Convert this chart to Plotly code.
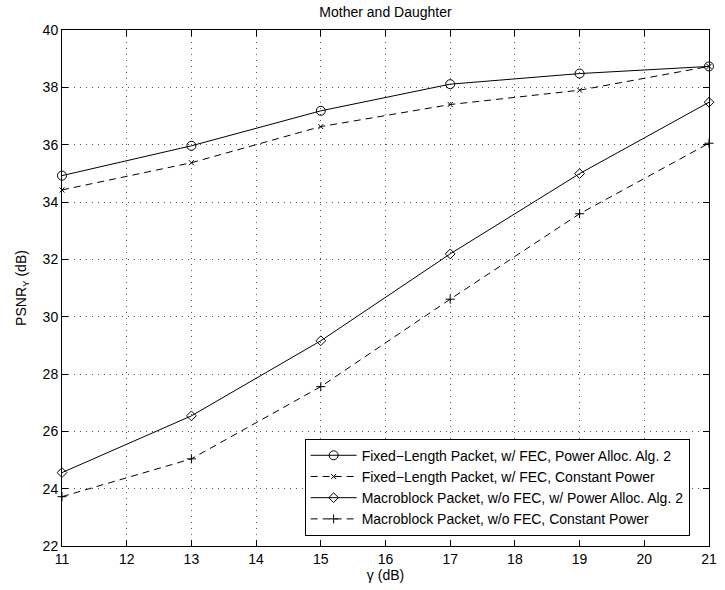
import plotly.graph_objects as go

# SNR gamma (dB)
gamma_db = [11, 13, 15, 17, 19, 21]

# Luma PSNR (dB) for each transmission scheme
psnr_fixed_pa2 = [34.92, 35.96, 37.18, 38.11, 38.48, 38.73]
psnr_fixed_const = [34.42, 35.37, 36.63, 37.40, 37.90, 38.73]
psnr_mb_pa2 = [24.56, 26.54, 29.16, 32.19, 34.99, 37.48]
psnr_mb_const = [23.72, 25.04, 27.56, 30.61, 33.59, 36.05]

series_names = [
    "Fixed\u2212Length Packet, w/ FEC, Power Alloc. Alg. 2",
    "Fixed\u2212Length Packet, w/ FEC, Constant Power",
    "Macroblock Packet, w/o FEC, w/ Power Alloc. Alg. 2",
    "Macroblock Packet, w/o FEC, Constant Power",
]

x_ticks = list(range(11, 22))
y_ticks = list(range(22, 41, 2))

FONT = "Liberation Sans, Arial, Helvetica, sans-serif"
FS = 14
DASH = "7px,5px"

styles = [
    (psnr_fixed_pa2, "solid", "circle-open", 9),
    (psnr_fixed_const, DASH, "x-thin-open", 5),
    (psnr_mb_pa2, "solid", "diamond-open", 7.5),
    (psnr_mb_const, DASH, "cross-thin-open", 6.5),
]

fig = go.Figure()
for name, (vals, dash, sym, size) in zip(series_names, styles):
    fig.add_trace(go.Scatter(
        x=gamma_db, y=vals, name=name, mode="lines+markers",
        line=dict(color="black", width=1, dash=dash),
        marker=dict(symbol=sym, size=size, color="black",
                    line=dict(color="black", width=1)),
        cliponaxis=False,
    ))

axis_common = dict(
    showline=True, linecolor="black", linewidth=1, mirror="ticks",
    ticks="inside", ticklen=6, tickcolor="black", tickwidth=1,
    showgrid=True, gridcolor="#555", griddash="1px,5px", gridwidth=1,
    zeroline=False, tickfont=dict(family=FONT, size=FS, color="black"),
)

fig.update_xaxes(
    range=[11, 21], tickvals=x_ticks,
    title=dict(text="\u03b3 (dB)", font=dict(family=FONT, size=FS, color="black"),
               standoff=4),
    **axis_common,
)
fig.update_yaxes(
    range=[22, 40], tickvals=y_ticks,
    title=dict(text="PSNR<sub>Y</sub> (dB)",
               font=dict(family=FONT, size=FS, color="black"), standoff=12),
    **axis_common,
)

fig.update_layout(
    width=725, height=590,
    margin=dict(l=62, r=8, t=30, b=44),
    paper_bgcolor="white", plot_bgcolor="white",
    title=dict(text="Mother and Daughter", x=0.5, xref="paper",
               y=1 - 12 / 590, yanchor="middle",
               font=dict(family=FONT, size=FS, color="black")),
    showlegend=True,
    legend=dict(
        x=0.375, y=0.02, xanchor="left", yanchor="bottom",
        bgcolor="white", bordercolor="black", borderwidth=1,
        font=dict(family=FONT, size=FS, color="black"),
        itemwidth=46, tracegroupgap=0,
    ),
)

fig.write_html("out.html")
